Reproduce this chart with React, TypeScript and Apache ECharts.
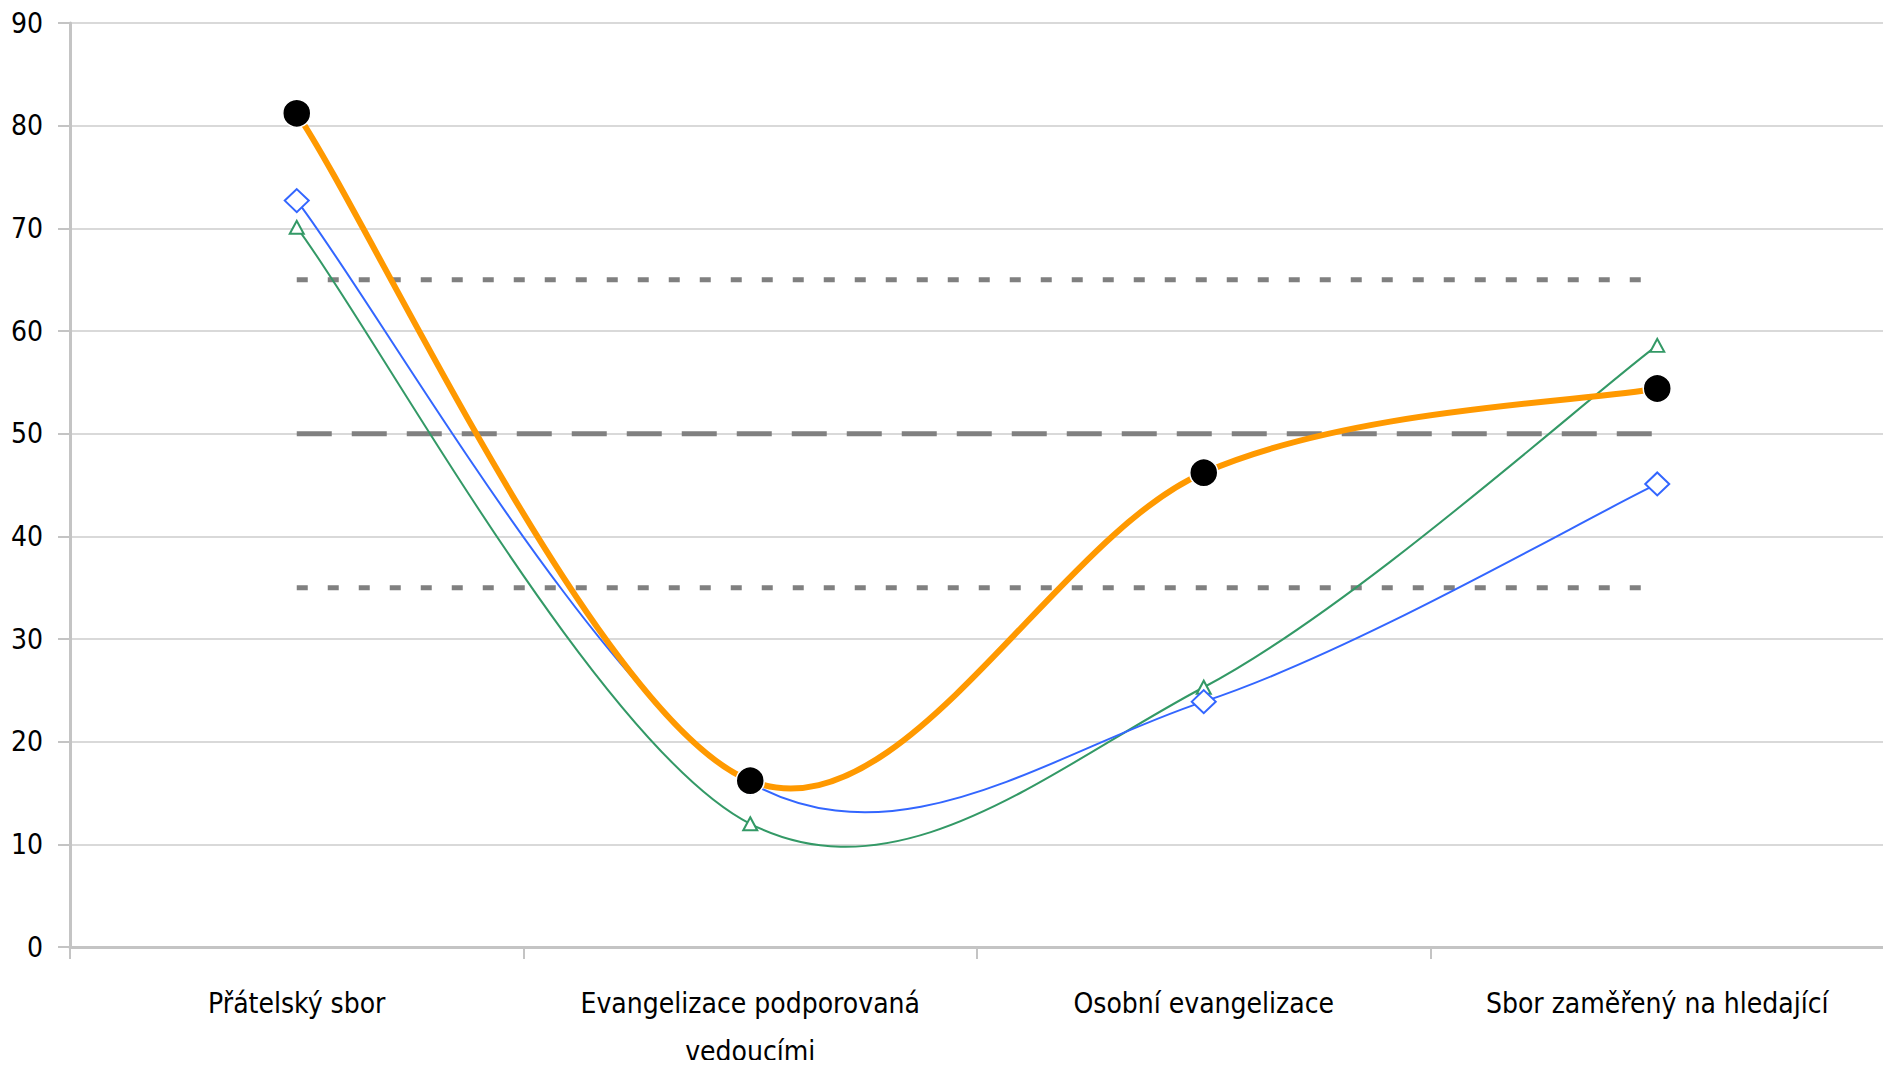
import React, { useEffect, useRef } from "react";
import * as echarts from "echarts";

const categories = [
  "Přátelský sbor",
  "Evangelizace podporovaná\nvedoucími",
  "Osobní evangelizace",
  "Sbor zaměřený na hledající",
];
const orangeValues = [81.2, 16.2, 46.2, 54.4];
const blueValues = [72.7, 16.0, 23.9, 45.1];
const greenValues = [70.1, 12.0, 25.3, 58.6];
const upperRef = [65, 65, 65, 65];
const midRef = [50, 50, 50, 50];
const lowerRef = [35, 35, 35, 35];
const yTicks = { min: 0, max: 90, interval: 10 };

const FONT = "'DejaVu Sans Condensed', 'Liberation Sans Narrow', sans-serif";

// Smooth curve (Catmull-Rom style, like the spreadsheet's smoothed line) drawn
// segment by segment through the chart's own coordinate system.
function curveSeries(values: number[], color: string, width: number, z: number) {
  return {
    type: "custom",
    silent: true,
    z,
    clip: false,
    data: values.map((v, i) => [i, v]),
    encode: { x: 0, y: 1 },
    renderItem: (params: any, api: any) => {
      const i = params.dataIndex;
      const n = values.length;
      if (i >= n - 1) return null;
      const p = (k: number) => {
        const kk = Math.max(0, Math.min(n - 1, k));
        return api.coord([kk, values[kk]]);
      };
      const p0 = p(i - 1);
      const p1 = p(i);
      const p2 = p(i + 1);
      const p3 = p(i + 2);
      return {
        type: "bezierCurve",
        shape: {
          x1: p1[0],
          y1: p1[1],
          cpx1: p1[0] + (p2[0] - p0[0]) / 6,
          cpy1: p1[1] + (p2[1] - p0[1]) / 6,
          cpx2: p2[0] - (p3[0] - p1[0]) / 6,
          cpy2: p2[1] - (p3[1] - p1[1]) / 6,
          x2: p2[0],
          y2: p2[1],
        },
        style: { stroke: color, lineWidth: width, fill: null, lineCap: "round" },
      };
    },
  };
}

function markerSeries(values: number[], symbol: string, size: any, itemStyle: any, z: number) {
  return {
    type: "line",
    data: values,
    symbol,
    symbolSize: size,
    showSymbol: true,
    silent: true,
    z,
    lineStyle: { width: 0, opacity: 0 },
    itemStyle,
  };
}

export default function App() {
  const ref = useRef<HTMLDivElement>(null);
  useEffect(() => {
    if (!ref.current) return;
    const chart = echarts.init(ref.current, null, { renderer: "svg" });
    const refLine = (data: number[], dash: number[]) => ({
      type: "line",
      data,
      symbol: "none",
      silent: true,
      z: 1,
      lineStyle: { color: "#808080", width: 5, type: dash, cap: "butt" },
    });
    chart.setOption({
      animation: false,
      backgroundColor: "#ffffff",
      grid: {
        left: 70,
        right: 7,
        top: 23,
        bottom: 121,
        containLabel: false,
        outerBoundsMode: "none",
      },
      xAxis: {
        type: "category",
        data: categories,
        boundaryGap: true,
        axisLine: { show: true, lineStyle: { color: "#c4c4c4", width: 3 } },
        axisTick: { show: true, length: 12, alignWithLabel: false, lineStyle: { color: "#c4c4c4", width: 2 } },
        axisLabel: {
          color: "#000",
          fontFamily: FONT,
          fontSize: 28,
          lineHeight: 48,
          margin: 32,
          interval: 0,
        },
        splitLine: { show: false },
      },
      yAxis: {
        type: "value",
        min: yTicks.min,
        max: yTicks.max,
        interval: yTicks.interval,
        axisLine: { show: true, lineStyle: { color: "#c4c4c4", width: 3 } },
        axisTick: { show: true, length: 12, lineStyle: { color: "#c4c4c4", width: 2 } },
        axisLabel: { color: "#000", fontFamily: FONT, fontSize: 28, margin: 27 },
        splitLine: { show: true, lineStyle: { color: "#d9d9d9", width: 2 } },
      },
      series: [
        refLine(upperRef, [11, 20]),
        refLine(midRef, [35, 20]),
        refLine(lowerRef, [11, 20]),
        curveSeries(greenValues, "#339966", 2, 2),
        markerSeries(greenValues, "triangle", [14, 13], { color: "#ffffff", borderColor: "#339966", borderWidth: 2 }, 3),
        curveSeries(blueValues, "#3366FF", 2, 4),
        markerSeries(blueValues, "diamond", [24, 23], { color: "#ffffff", borderColor: "#3366FF", borderWidth: 2 }, 5),
        curveSeries(orangeValues, "#FF9900", 6, 6),
        markerSeries(orangeValues, "circle", 28, { color: "#000000", borderColor: "#ffffff", borderWidth: 1.5 }, 7),
      ],
    });
    return () => chart.dispose();
  }, []);
  return <div ref={ref} style={{ width: 1891, height: 1068, margin: -8 }} />;
}
